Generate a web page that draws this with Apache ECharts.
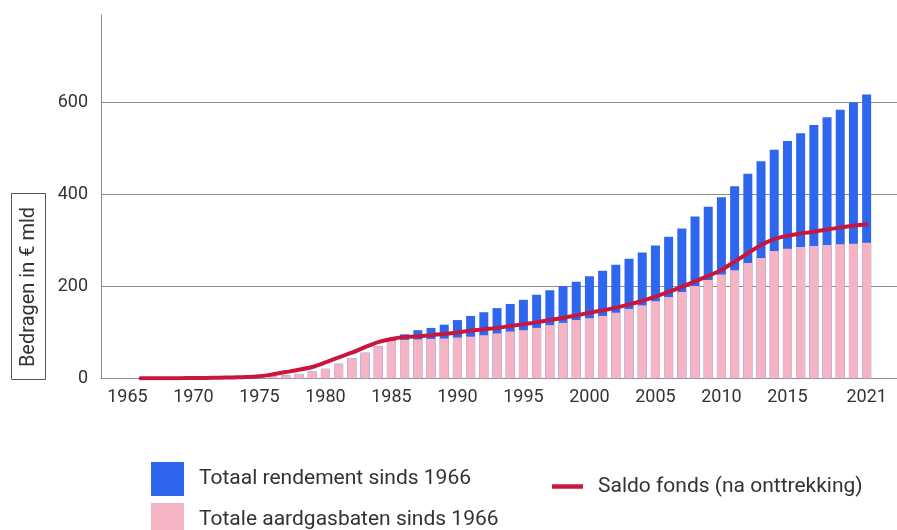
<!DOCTYPE html>
<html>
<head>
<meta charset="utf-8">
<script src="https://cdn.jsdelivr.net/npm/echarts@6/dist/echarts.min.js"></script>
<style>
html,body{margin:0;padding:0;background:#fff;}
#chart{width:897px;height:530px;}
</style>
</head>
<body>
<div id="chart"></div>
<script>
const years = [1966,1967,1968,1969,1970,1971,1972,1973,1974,1975,1976,1977,1978,1979,1980,1981,1982,1983,1984,1985,1986,1987,1988,1989,1990,1991,1992,1993,1994,1995,1996,1997,1998,1999,2000,2001,2002,2003,2004,2005,2006,2007,2008,2009,2010,2011,2012,2013,2014,2015,2016,2017,2018,2019,2020,2021];
const aardgasbaten = [0.3,0.5,0.7,0.9,1,1.2,1.5,2,2.5,3,5,7,10,15,21,32,44,56,70,82,84,85,86,87,89,91,94,98,102,105,110,116,121,127,131,136,143,151,159,168,177,188,201,214,226,235,251,262,277,282,286,288,290,292,293,295];
const rendement = [0,0,0,0,0,0,0,0,0,0,0,0,0,0,0,0,0,0,0,4,12,20,24,30,38,45,50,55,60,66,72,76,80,83,91,98,104,109,115,121,131,138,151,159,168,183,194,210,220,234,247,263,278,292,307,322];
const saldo = [0.5,0.6,0.7,0.8,1,1.3,1.7,2.3,3,5,9,14,19,25,35,46,56,68,79,86,90,92,94,97,100,104,107,110,114,118,122,127,132,137,143,148,154,161,169,178,188,199,211,223,236,254,272,290,303,310,315,319,324,328,332,335];
const xTickLabels = [1965,1970,1975,1980,1985,1990,1995,2000,2005,2010,2015,2021];
const yTicks = [0,200,400,600];

const seriesNames = ['Totaal rendement sinds 1966','Totale aardgasbaten sinds 1966','Saldo fonds (na onttrekking)'];

// blue bar spans from 0 to aardgasbaten + rendement; pink drawn over its lower part
const blueTop = years.map((y,i)=>[y, aardgasbaten[i] + rendement[i]]);

const chart = echarts.init(document.getElementById('chart'), null, {renderer:'canvas'});
const font = 'Roboto, "Noto Sans", sans-serif';

chart.setOption({
  animation:false,
  backgroundColor:'#fff',
  textStyle:{fontFamily:font},
  grid:{left:101,right:0,top:15,bottom:151.5,containLabel:false},
  xAxis:{
    type:'value',min:1963,max:2023.3,
    axisLine:{show:true,lineStyle:{color:'#8c8c8c',width:1}},
    axisTick:{show:false},
    splitLine:{show:false},
    axisLabel:{customValues:xTickLabels,color:'#333',fontSize:18,fontFamily:font,margin:10,formatter:v=>String(v)}
  },
  yAxis:{
    type:'value',min:0,max:790,interval:200,
    axisLine:{show:true,lineStyle:{color:'#8c8c8c',width:1}},
    axisTick:{show:false},
    splitLine:{show:true,showMaxLine:false,lineStyle:{color:'#8c8c8c',width:1}},
    axisLabel:{showMaxLabel:false,color:'#333',fontSize:18,fontFamily:font,margin:13,
      formatter:v=>yTicks.includes(v)?String(v):''}
  },
  legend:[
    {data:[seriesNames[0],seriesNames[1]],orient:'vertical',left:151,top:462,height:120,padding:0,
     itemWidth:33,itemHeight:34,itemGap:7,icon:'rect',
     textStyle:{color:'#333',fontSize:21,fontFamily:font,padding:[0,0,0,10]}},
    {data:[seriesNames[2]],orient:'horizontal',left:552,top:476,padding:0,
     itemWidth:31,itemHeight:4.5,icon:'rect',
     textStyle:{color:'#333',fontSize:21,fontFamily:font,padding:[0,0,0,10]}}
  ],
  graphic:[
    {type:'rect',shape:{x:11.5,y:193.5,width:34,height:186},style:{fill:'none',stroke:'#555',lineWidth:1}},
    {type:'text',x:28.5,y:287,rotation:Math.PI/2,
     style:{text:'Bedragen in € mld',fill:'#333',font:'20px '+font,align:'center',verticalAlign:'middle'}}
  ],
  series:[
    {name:seriesNames[0],type:'bar',barWidth:9,barGap:'-100%',
     itemStyle:{color:'#2e66ee'},
     data:blueTop},
    {name:seriesNames[1],type:'bar',barWidth:9,barGap:'-100%',
     itemStyle:{color:'#f5b4c3'},
     data:years.map((y,i)=>[y,aardgasbaten[i]])},
    {name:seriesNames[2],type:'line',smooth:0.3,symbol:'none',z:5,
     itemStyle:{color:'#c8173d'},
     lineStyle:{color:'#c8173d',width:4,cap:'round'},
     data:years.map((y,i)=>[y,saldo[i]])}
  ]
});
</script>
</body>
</html>
